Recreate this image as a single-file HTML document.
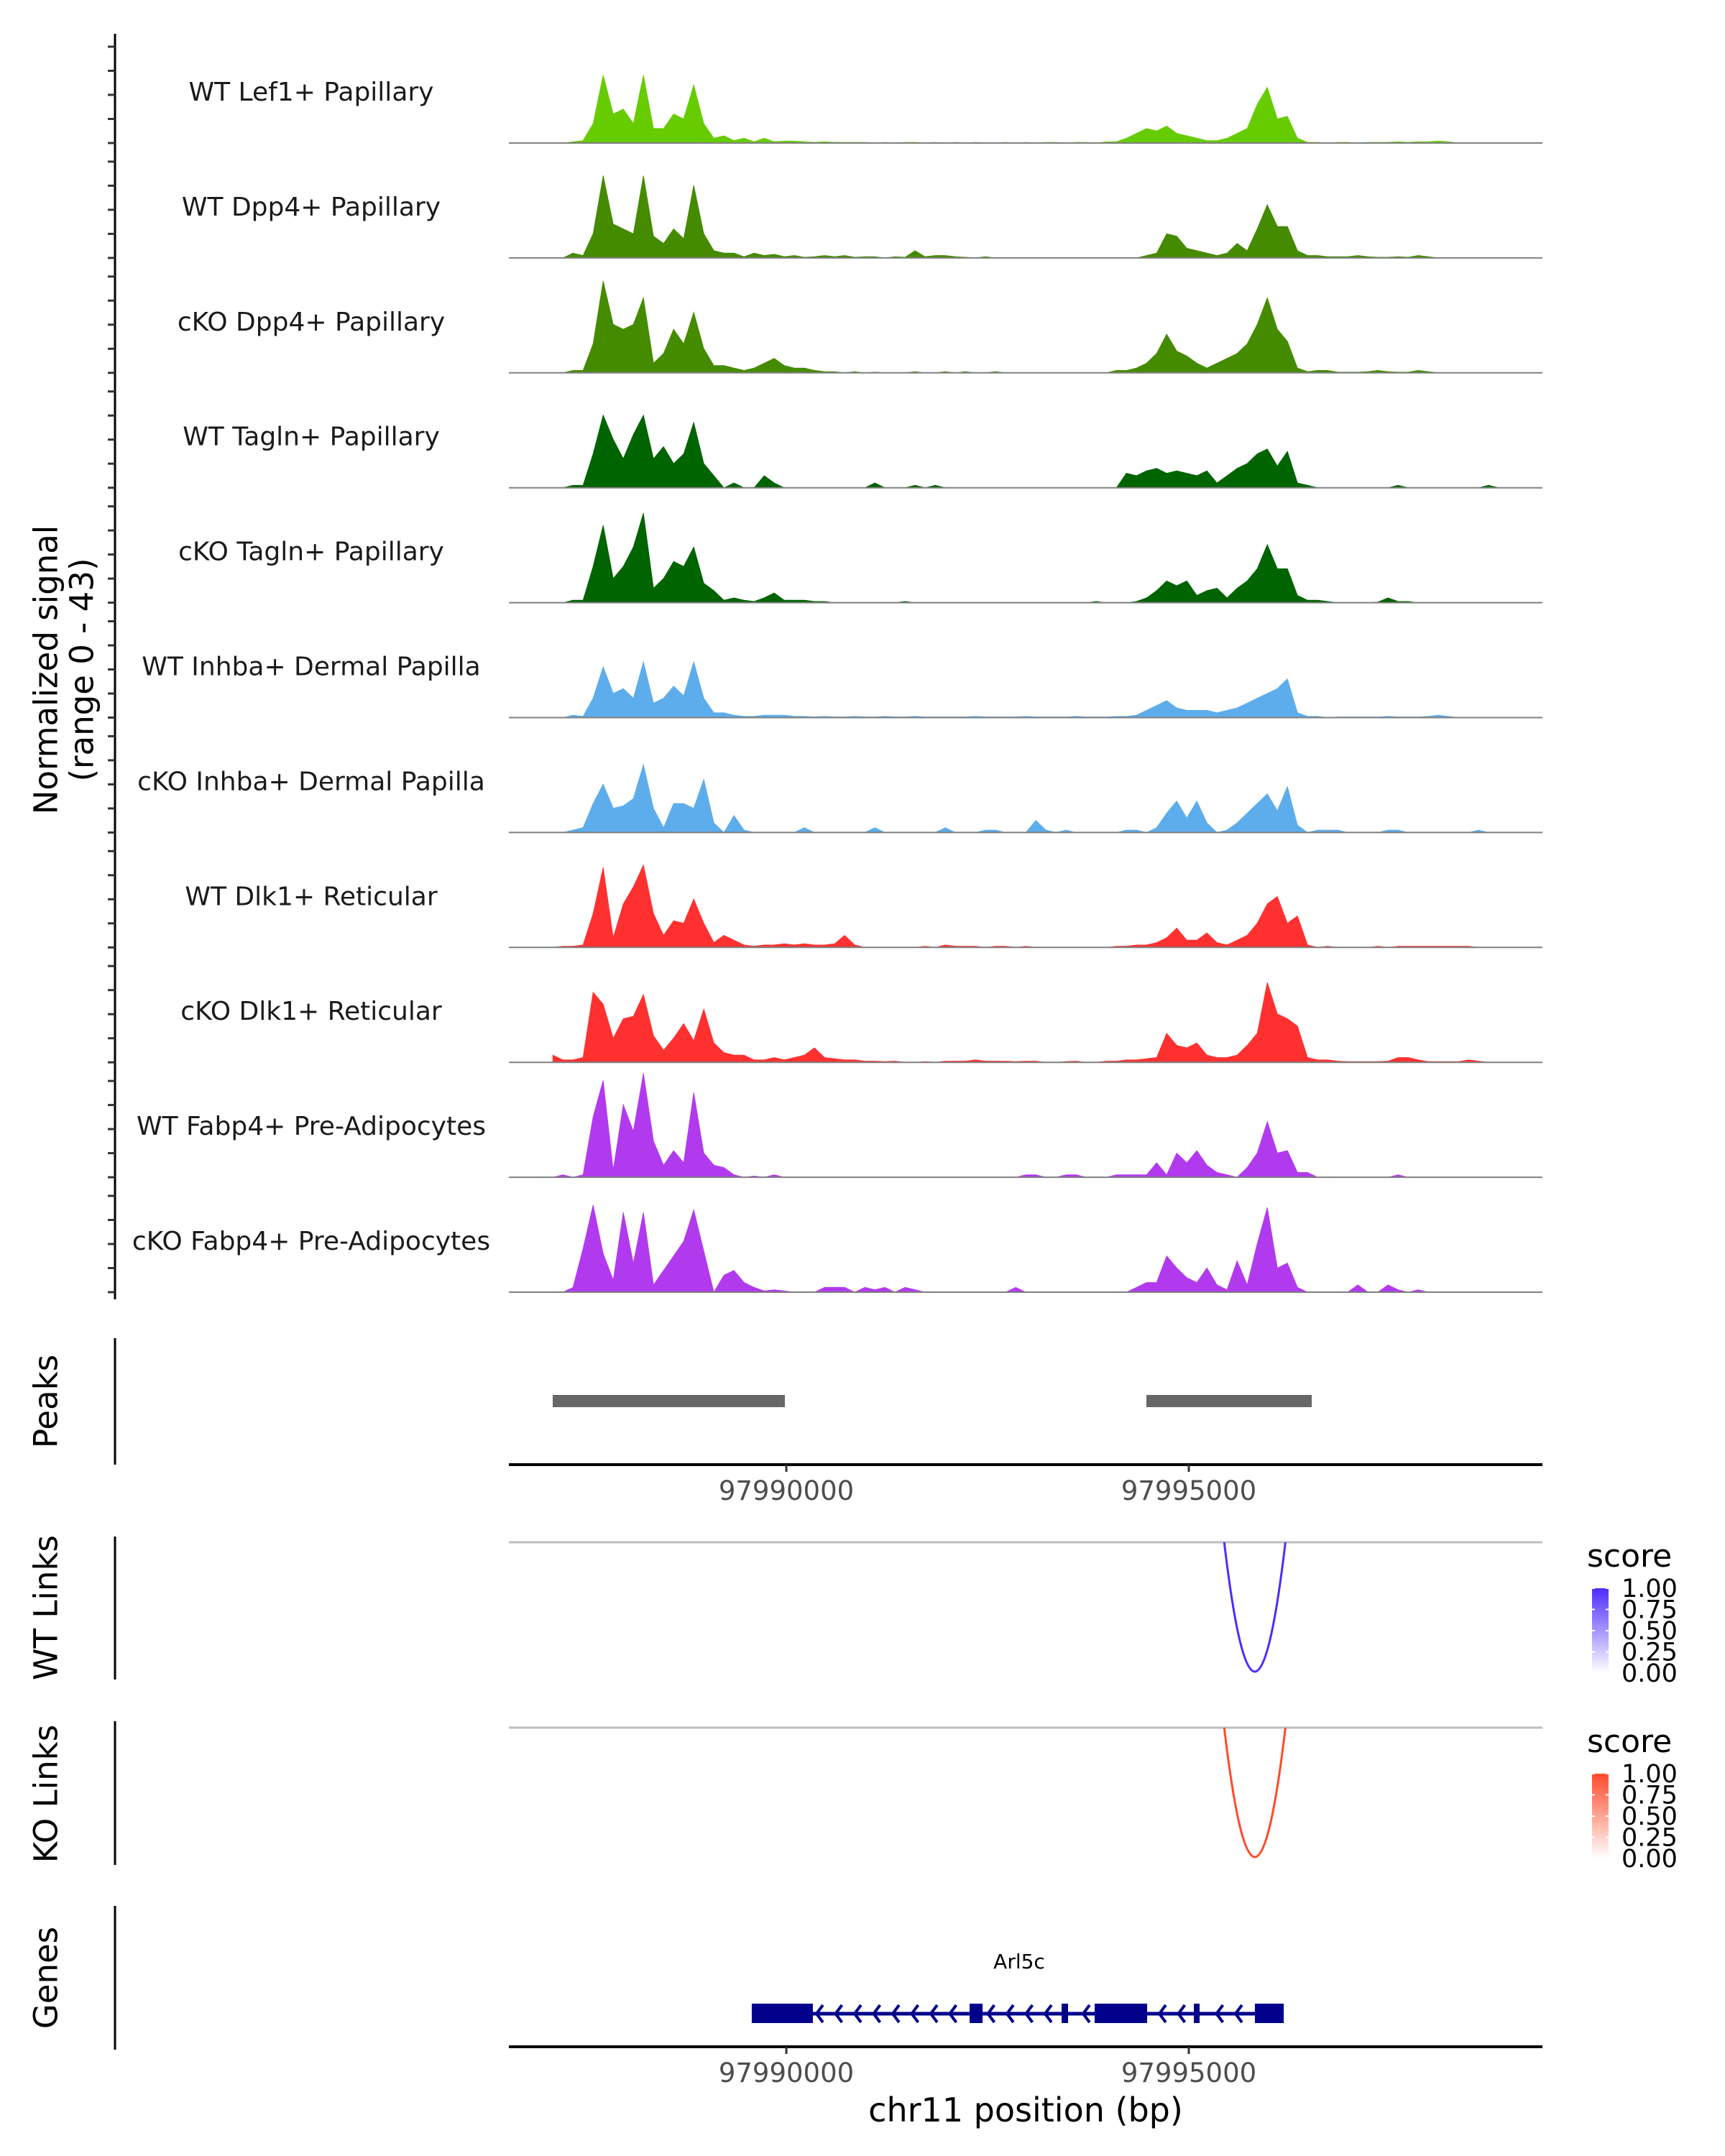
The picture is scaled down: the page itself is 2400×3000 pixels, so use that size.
<!DOCTYPE html>
<html><head><meta charset="utf-8"><style>
html,body{margin:0;padding:0;background:#fff;}
svg{display:block;font-family:"DejaVu Sans","Liberation Sans",sans-serif;}
</style></head><body>
<svg id="chart" width="2400" height="3000" viewBox="0 0 2400 3000" xmlns="http://www.w3.org/2000/svg">
<g id="tracks"></g>
<g id="axes"></g>
</svg>
<script>
const trackLabels = ["WT Lef1+ Papillary","WT Dpp4+ Papillary","cKO Dpp4+ Papillary","WT Tagln+ Papillary","cKO Tagln+ Papillary","WT Inhba+ Dermal Papilla","cKO Inhba+ Dermal Papilla","WT Dlk1+ Reticular","cKO Dlk1+ Reticular","WT Fabp4+ Pre-Adipocytes","cKO Fabp4+ Pre-Adipocytes"];
const trackColors = ["#66cc00","#458b00","#458b00","#006400","#006400","#5dadec","#5dadec","#ff3030","#ff3030","#b23aee","#b23aee"];
const binStart = 97987100;
const binSize = 125;
const sigLef1WT = [0,0,0.5,1,8,28,12,14,8,28, 6,6,12,10,24,8,2,3,1,2, 0.5,2,0.5,0.8,0.8,0.5,0.3,0.5,0.3,0.3, 0.3,0.3,0,0.3,0,0.3,0.3,0,0.3,0, 0.3,0,0.3,0,0,0.3,0,0.3,0,0.3, 0.3,0,0.3,0.3,0,0.5,0.5,2,4,6, 5,7,4,3,2,1,1,2,4,6, 16,23,10,11,2,0.3,0.3,0,0.3,0.3, 0,0.3,0.3,0.3,0.5,0.3,0.5,0.5,0.8,0.5, 0,0,0,0,0];
const sigDpp4WT = [0,0,2,1,10,34,14,12,10,34, 9,6,12,8,30,10,3,2,2,0.5, 2,1,1.5,0.5,1,0.3,0.5,1,0.5,1, 0.3,0.5,0.5,0,0.5,0.3,3,0.5,1,1, 0.5,0.3,0,0.5,0,0,0,0,0,0, 0,0,0,0,0,0,0,0,0,1, 2,10,9,4,3,2,1,2,6,3, 12,22,13,13,3,1,1,0.5,0.5,0.5, 1,0.5,0.3,0.3,0.5,0.3,1,0.5,0,0, 0,0,0,0,0];
const sigDpp4KO = [0,0,1,1,12,38,20,18,20,31, 4,8,18,12,25,10,3,3,2,1, 2,4,6,3,2,2,1,0.5,0.5,0, 0.5,0,0.3,0,0,0,0.5,0,0,0.5, 0,0.5,0,0,0.5,0,0,0,0,0, 0,0,0,0,0,0,1,1,2,4, 8,16,9,7,4,2,4,6,8,12, 20,31,18,13,2,0.5,1,1,0.3,0.3, 0.3,0.5,1,0.5,0.3,0.3,1,0.5,0,0, 0,0,0,0,0];
const sigTaglnWT = [0,0,1,1,14,30,20,12,22,30, 12,17,10,14,27,10,5,0,2,0, 0,5,2,0,0,0,0,0,0,0, 0,0,2,0,0,0,1,0,1,0, 0,0,0,0,0,0,0,0,0,0, 0,0,0,0,0,0,0,6,5,7, 8,6,7,6,5,7,2,5,8,10, 14,16,9,15,2,1,0,0,0,0, 0,0,0,0,1,0,0,0,0,0, 0,0,0,1,0];
const sigTaglnKO = [0,0,1,1,15,32,10,15,23,37, 6,10,17,15,23,8,5,1,2,1, 0.5,2,4,1,1,1,0.5,0.5,0,0, 0,0,0,0,0,0.5,0,0,0,0, 0,0,0,0,0,0,0,0,0,0, 0,0,0,0,0.5,0,0,0,0.5,2, 5,9,7,9,3,5,6,2,6,9, 14,24,14,14,3,1,1,0.5,0,0, 0,0,0.3,2,0.5,0.5,0,0,0,0, 0,0,0,0,0];
const sigInhbaWT = [0,0,1,0.5,8,21,10,12,8,23, 6,8,13,9,23,8,2,2,1,0.5, 0.5,1,1,1,0.5,0.5,0.3,0.5,0.3,0.3, 0.5,0.3,0.3,0.5,0.3,0.3,0.5,0.3,0.3,0.3, 0.3,0.3,0.5,0.3,0.3,0.3,0.3,0.5,0.3,0.3, 0.3,0.3,0.5,0.3,0.3,0.3,0.5,0.5,1,3, 5,7,4,3,3,3,2,3,4,6, 8,10,12,16,2,0.5,0.5,0,0.3,0.3, 0.3,0.3,0.3,0.5,0.3,0.3,0.3,0.5,1,0.5, 0,0,0,0,0];
const sigInhbaKO = [0,0,1,2,12,20,10,11,14,28, 10,2,12,12,10,22,4,0,7,1, 0,0,0,0,0,2,0,0,0,0, 0,0,2,0,0,0,0,0,0,2, 0,0,0,1,1,0,0,0,5,1, 0,1,0,0,0,0,0,1,1,0, 2,8,13,6,13,4,0,1,4,8, 12,16,9,19,3,0,1,1,1,0, 0,0,0,1,1,0,0,0,0,0, 0,0,1,0,0];
const sigDlk1WT = [0,0.5,0.5,1,14,33,4,18,25,34, 14,5,11,10,20,10,2,5,3,1, 0.5,1,1,1.5,1,1.5,1,1,1.5,5, 1,0,0,0,0,0,0,0.5,0,1, 0.5,0.5,0.5,0,0.5,0.5,0,0.5,0,0, 0,0,0,0,0,0,0.5,0.5,1,1, 2,4,8,3,3,6,2,1,3,5, 10,18,21,10,13,1,0,0.5,0,0, 0,0,0.5,0,0.5,0.5,0.5,0.5,0.5,0.5, 0.5,0.5,0,0,0];
const sigDlk1KO = [3,1,1,2,29,24,10,18,19,28, 11,5,10,16,9,22,8,4,3,3, 1,1,2,1,2,3,6,2,1.5,1, 1,0.5,0.5,0.3,0.5,0,0,0.3,0,0.5, 0.5,0.5,1,0.5,0.5,0.5,0.3,0.5,0.5,0, 0,0.3,0.5,0,0,0.5,0.5,1,1,1.5, 2,12,7,6,8,3,2,2,3,7, 12,33,20,18,15,2,1,1,0.5,0.3, 0.3,0.3,0.3,0.5,2,2,1,0.3,0.3,0.3, 0.3,1,0.5,0,0];
const sigFabp4WT = [0,1,0,1,25,40,3,30,19,43, 15,5,11,6,35,10,5,4,1,0, 0.5,0,1,0,0,0,0,0,0,0, 0,0,0,0,0,0,0,0,0,0, 0,0,0,0,0,0,0,1,1,0, 0,1,1,0,0,0,1,1,1,1, 6,1,10,6,11,5,2,1,0,4, 10,23,10,11,2,2,0,0,0,0, 0,0,0,0,1,0,0,0,0,0, 0,0,0,0,0];
const sigFabp4KO = [0,0,2,18,36,16,5,33,12,33, 3,9,15,21,34,17,0,7,9,4, 2,0.5,1,0.5,0,0,0,2,2,2, 0,2,1,2,0,2,1,0,0,0, 0,0,0,0,0,0,2,0,0,0, 0,0,0,0,0,0,0,0,2,4, 4,15,10,6,4,10,3,1,13,3, 20,35,10,12,2,0,0,0,0,0, 3,0,0,3,1,0,1,0,0,0, 0,0,0,0,0];
const trackSignals = [sigLef1WT,sigDpp4WT,sigDpp4KO,sigTaglnWT,sigTaglnKO,sigInhbaWT,sigInhbaKO,sigDlk1WT,sigDlk1KO,sigFabp4WT,sigFabp4KO];
const xTickValues = [97990000, 97995000];
const xTickLabels = ["97990000","97995000"];
const peakStarts = [97987098, 97994473];
const peakEnds = [97989982, 97996527];
const linkStarts = [97995440];
const linkEnds = [97996200];
const linkScores = [1.0];
const exonStarts = [97989571,97992277,97993420,97993830,97995063,97995821];
const exonEnds = [97990330,97992438,97993500,97994482,97995134,97996179];
const geneStart = 97989571, geneEnd = 97996179;
const legendTicks = ["1.00","0.75","0.50","0.25","0.00"];

const NS="http://www.w3.org/2000/svg";
const svg=document.getElementById('chart');
const tracksG=document.getElementById('tracks');
const axesG=document.getElementById('axes');
function mk(tag,attrs,parent){const e=document.createElementNS(NS,tag);for(const k in attrs)e.setAttribute(k,attrs[k]);(parent||svg).appendChild(e);return e;}
function xScale(bp){return 1094+(bp-97990000)*0.112;}
const X0=708,X1=2146;
const base0=199, trackStep=159.9, unitPx=3.37;
function yScale(v,base){return base-v*unitPx;}

let e=mk('line',{x1:160,y1:47,x2:160,y2:base0+10*trackStep+10,stroke:'#000','stroke-width':3},axesG);



trackSignals.forEach((vals,t)=>{
  const base=base0+trackStep*t;
  const g=mk('g',{},tracksG);
  
  
  let d='M'+xScale(binStart).toFixed(1)+','+base;
  vals.forEach((v,i)=>{d+=' L'+xScale(binStart+binSize*i).toFixed(1)+','+yScale(v,base).toFixed(1);});
  d+=' L'+xScale(binStart+binSize*(vals.length-1)).toFixed(1)+','+base+' Z';
  const p=mk('path',{d:d,fill:trackColors[t],stroke:trackColors[t],'stroke-width':0.8},g);
  
  
  const bl=mk('line',{x1:X0,y1:base,x2:X1,y2:base,stroke:'#808080','stroke-width':2},g);
  
  
  const lb=mk('text',{x:433,y:base-59,'text-anchor':'middle','font-size':36,fill:'#1a1a1a'},g);
  lb.textContent=trackLabels[t];
  
  
  for(let k=0;k<5;k++){
    const tk=mk('line',{x1:150,y1:base-k*33.5,x2:160,y2:base-k*33.5,stroke:'#333','stroke-width':3},axesG);
    
    
  }
});

function rotLabel(txt,x,y,name,size){
  const t=mk('text',{x:x,y:y,'text-anchor':'middle','font-size':size||45,fill:'#000',transform:'rotate(-90 '+x+' '+y+')','dominant-baseline':'central'},axesG);
  t.textContent=txt;
  
  
}
rotLabel('Normalized signal',64,932,'y-axis-title');
rotLabel('(range 0 - 43)',114,932,'y-axis-range');
rotLabel('Peaks',64,1950,'peaks-label');
rotLabel('WT Links',64,2237,'wt-links-label');
rotLabel('KO Links',64,2496,'ko-links-label');
rotLabel('Genes',64,2752,'genes-label');

[[1862,2038,'peaks-axis'],[2138,2337,'wt-links-axis'],[2395,2595,'ko-links-axis'],[2652,2852,'genes-axis']].forEach(a=>{
  const l=mk('line',{x1:160,y1:a[0],x2:160,y2:a[1],stroke:'#000','stroke-width':3},axesG);
  
  
});

peakStarts.forEach((s,i)=>{
  const r=mk('rect',{x:xScale(s),y:1941,width:xScale(peakEnds[i])-xScale(s),height:17,fill:'#676767'},axesG);
  
  
});

function xAxis(y,name){
  const l=mk('line',{x1:X0,y1:y,x2:X1,y2:y,stroke:'#000','stroke-width':4},axesG);
  
  
  xTickValues.forEach((v,i)=>{
    const tk=mk('line',{x1:xScale(v),y1:y,x2:xScale(v),y2:y+10,stroke:'#333','stroke-width':3},axesG);
    
    
    const tl=mk('text',{x:xScale(v),y:y+49,'text-anchor':'middle','font-size':37,fill:'#4d4d4d'},axesG);
    tl.textContent=xTickLabels[i];
    
    
  });
}
xAxis(2038,'peaks-x-axis');
xAxis(2848,'genes-x-axis');
const xt=mk('text',{x:1427,y:2952,'text-anchor':'middle','font-size':46,fill:'#000'},axesG);
xt.textContent='chr11 position (bp)';



function links(top,color,gradId,legendY,name){
  const gl=mk('line',{x1:X0,y1:top,x2:X1,y2:top,stroke:'#bebebe','stroke-width':3},axesG);
  
  
  const depth=180;
  linkStarts.forEach((s,i)=>{
    const x1=xScale(s),x2=xScale(linkEnds[i]);
    const c=top+2*depth;
    const p=mk('path',{d:`M${x1},${top} Q${(x1+x2)/2},${c} ${x2},${top}`,fill:'none',stroke:color,'stroke-width':3,'stroke-opacity':linkScores[i]},axesG);
    
    
  });
  const defs=mk('defs',{},axesG);
  const lg=mk('linearGradient',{id:gradId,x1:0,y1:1,x2:0,y2:0},defs);
  mk('stop',{offset:0,'stop-color':'#ffffff'},lg);
  mk('stop',{offset:1,'stop-color':color},lg);
  const st=mk('text',{x:2208,y:legendY,'font-size':44,fill:'#000'},axesG);
  st.textContent='score';
  
  
  const by=legendY+30;
  const bar=mk('rect',{x:2215,y:by,width:23,height:118,fill:`url(#${gradId})`},axesG);
  
  
  legendTicks.forEach((t,k)=>{
    const yy=by+k*29.5;
    mk('line',{x1:2215,y1:yy,x2:2219,y2:yy,stroke:'#fff','stroke-width':2},axesG);
    mk('line',{x1:2234,y1:yy,x2:2238,y2:yy,stroke:'#fff','stroke-width':2},axesG);
    const tt=mk('text',{x:2256,y:yy+12,'font-size':35,fill:'#000'},axesG);
    tt.textContent=t;
    
    
  });
}
links(2146,'#4f2bff','gWT',2180,'wt-links');
links(2404,'#ff4a2b','gKO',2438,'ko-links');

const gg=mk('g',{},axesG);


mk('line',{x1:xScale(geneStart),y1:2802,x2:xScale(geneEnd),y2:2802,stroke:'#00008b','stroke-width':5},gg);
for(let x=xScale(geneStart)+40;x<xScale(geneEnd)-15;x+=26.5){
  let inside=false;
  exonStarts.forEach((s,i)=>{if(x>xScale(s)-6&&x<xScale(exonEnds[i])+6)inside=true;});
  if(inside)continue;
  mk('polyline',{points:`${x+6},2790 ${x-3},2802 ${x+6},2814`,fill:'none',stroke:'#00008b','stroke-width':4},gg);
}
exonStarts.forEach((s,i)=>{
  const r=mk('rect',{x:xScale(s),y:2788,width:xScale(exonEnds[i])-xScale(s),height:27,fill:'#00008b'},gg);
  
  
});
const gl=mk('text',{x:1418,y:2739,'text-anchor':'middle','font-size':28,fill:'#000'},gg);
gl.textContent='Arl5c';


</script>
</body></html>
